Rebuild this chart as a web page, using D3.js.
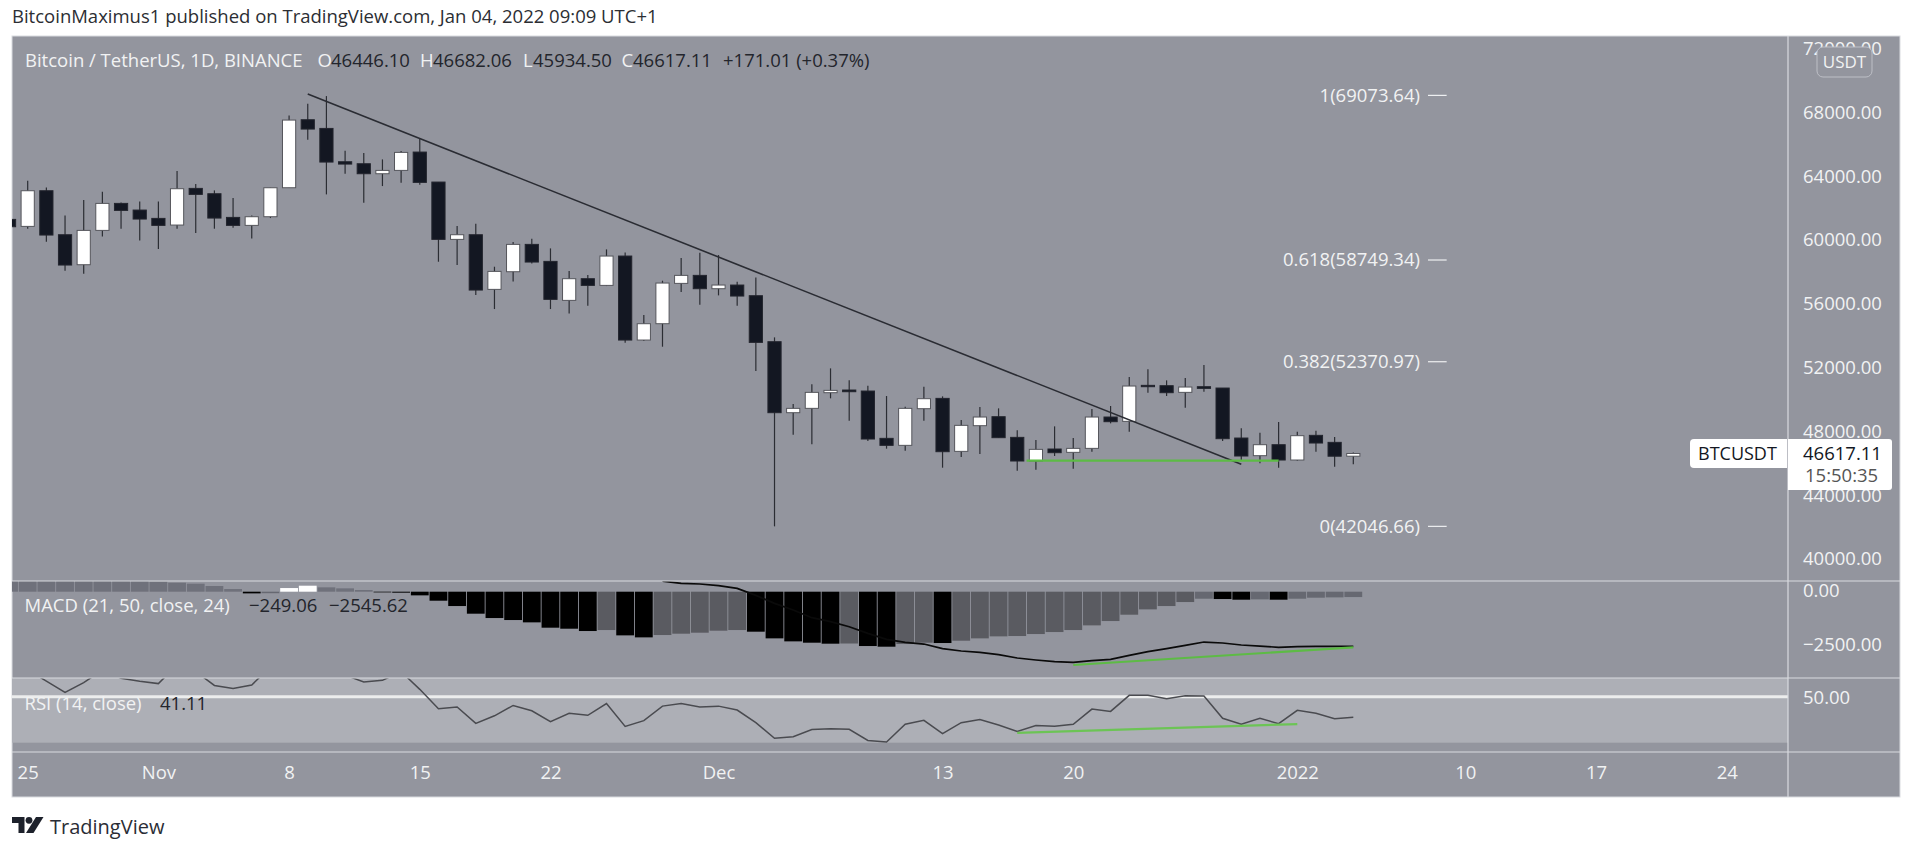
<!DOCTYPE html>
<html><head><meta charset="utf-8">
<script src="https://cdnjs.cloudflare.com/ajax/libs/d3/7.8.5/d3.min.js"></script>
<style>
html,body{margin:0;padding:0;background:#fff;overflow:hidden}
svg{display:block}
text{font-family:"Open Sans","Noto Sans",sans-serif;font-size:18.5px;font-weight:500}
</style></head><body><svg id="c" width="1909" height="848"></svg>
<script>
// ---------- data ----------
const firstDay = -1; // array position 0 is the day before the "25" tick (24 Oct)
const candleOpen = [61297,60858,63094,60335,58454,60607,62300,61882,61359,60942,63241,62906,61422,60921,61464,63282,67546,67002,64912,64787,64160,64369,65519,63638,60043,60335,56908,58015,59729,58663,56218,57577,57158,58998,53731,54755,57284,57786,56950,57180,56511,53627,49175,49447,50429,50596,50533,47566,47127,49426,50073,46750,48360,48924,47628,46145,46897,46688,46938,48903,48631,50889,50868,50450,50805,50721,47586,46479,47168,46207,47754,47315,46446.10];
const candleHigh = [61600,63721,63303,61548,62509,63031,62363,62425,62425,64327,63512,63115,62634,61548,63282,67818,68549,69030,65602,65456,65059,65581,66375,63638,60879,61025,58329,59876,60085,59478,58057,57807,59416,59228,55298,57451,58872,59207,59061,57388,57660,53898,49718,50951,51954,51202,50868,50220,49551,50805,50199,48715,49530,49447,48067,47461,48318,47586,49405,49593,51411,51892,51202,51348,52163,50721,48193,47921,48590,47984,48046,47649,46682.06];
const candleLow = [60700,60712,59897,58078,57890,60231,60712,59980,59437,60712,60440,60712,60774,60106,61380,63282,66292,62864,64160,62342,63387,63596,63470,58642,58434,56553,55675,57409,58538,55675,55403,55884,57116,53564,53668,53313,56741,55946,56532,55884,51787,42047,47795,47189,50074,48673,47398,46918,46792,48673,45726,46395,46583,47608,45538,45601,46458,45664,46729,48506,47984,50429,50220,49488,50491,47398,46207,45998,45726,46165,46730,45789,45934.50];
const candleClose = [60837,63094,60315,58434,60607,62300,61861,61318,60921,63220,62864,61380,60921,61464,63282,67525,66961,64892,64766,64160,64369,65498,63617,60043,60335,56866,58036,59729,58622,56281,57577,57158,58998,53731,54755,57305,57786,56950,57180,56490,53584,49175,49447,50450,50575,50491,47524,47127,49447,50052,46729,48381,48903,47608,46145,46876,46667,46938,48903,48611,50847,50805,50429,50784,50700,47545,46458,47168,46207,47733,47273,46446,46617.11];

const histogram = [620,610,600,590,570,550,520,490,470,418,372,264,124,-78,-70,170,279,202,155,78,-31,-46,-170,-419,-667,-1023,-1225,-1318,-1426,-1674,-1721,-1829,-1783,-2031,-2124,-2015,-1953,-1907,-1814,-1783,-1860,-2170,-2310,-2372,-2418,-2410,-2527,-2558,-2434,-2372,-2387,-2279,-2170,-2077,-2062,-1969,-1876,-1783,-1566,-1364,-1070,-822,-667,-481,-326,-341,-372,-357,-372,-326,-279,-264,-249.06];
const macdLineFirstDay = 34;
const macdLine = [496,388,357,279,155,-171,-543,-853,-1209,-1395,-1628,-1938,-2217,-2356,-2434,-2651,-2759,-2821,-2930,-3085,-3178,-3255,-3286,-3209,-3147,-2961,-2790,-2651,-2496,-2341,-2387,-2480,-2527,-2589,-2558,-2542,-2542,-2545.62];
const rsiFirstDay = 0;
const rsi = [61.6,56.8,51.9,56.1,61.6,58,56.7,55.7,63.8,60.9,54.9,53.6,55.1,63,70.3,68.8,65.9,59.4,56.4,57.1,60.9,53.2,44.8,45.5,38.4,41.7,46.2,43.9,39.1,42.8,41.9,47,37.1,39.6,45.9,47,45.5,45.9,44.2,38.7,31.9,32.6,35.7,36.1,35.8,31,30.3,38,39.7,33.9,38.7,40.1,37.7,34.9,37.5,37.2,38,44.6,43.6,50.6,50.6,49.1,50.4,50.3,40.6,38,40.6,38.3,44.1,42.8,40.4,41.11];

const trendDays = [15,65], trendPrices = [69155,45935];
const greenPriceDays = [53.5,67], greenPrices = [46165,46165];
const greenMacdDays = [56,71], greenMacd = [-3410,-2589];
const greenRsiDays = [53,68], greenRsi = [34.3,38.1];

const fibRatios = ["1","0.618","0.382","0"];
const fibPrices = [69073.64,58749.34,52370.97,42046.66];
const fibLineDays = [75,76];

const priceTicks = [72000,68000,64000,60000,56000,52000,48000,44000,40000];
const macdTicks = [0,-2500];
const rsiTicks = [50];
const timeTickDays = [0,7,14,21,28,37,49,56,68,77,84,91];
const timeTickLabels = ["25","Nov","8","15","22","Dec","13","20","2022","10","17","24"];

// ---------- layout ----------
const L=12,R=1900,AX=1788,T=36,B=797,S1=581,S2=678,S3=752;
const PANE="#93959e",LINE="#d9dbe0",LIGHT="#f1f2f3",DARK="#131722",VAL="#23252c";
const svg=d3.select("#c");
const x=d3.scaleLinear().domain([0,71]).range([27.7,1353.3]);
const yP=d3.scaleLinear().domain([40000,68000]).range([559,112.5]);
const yM=d3.scaleLinear().domain([0,-2500]).range([591.7,645.45]);
const yR=d3.scaleLinear().domain([50,30]).range([696.7,742.7]);

const defs=svg.append("defs");
const clip=(id,y0,y1)=>defs.append("clipPath").attr("id",id).append("rect").attr("x",L).attr("y",y0).attr("width",AX-L).attr("height",y1-y0);
clip("cp",T,S1);clip("cm",S1,S2);clip("cr",S2,S3);

svg.append("rect").attr("x",L).attr("y",T).attr("width",R-L).attr("height",B-T).attr("fill",PANE).attr("stroke",LINE).attr("stroke-width",1);

// RSI band
svg.append("rect").attr("x",L).attr("y",S2).attr("width",AX-L).attr("height",yR(30)-S2).attr("fill","#adafb6");

// ---------- candles ----------
const days=candleOpen.map((_,i)=>i);
const gc=svg.append("g").attr("clip-path","url(#cp)");
const bw=13.2;
gc.selectAll("line.w").data(days).join("line").attr("class","w")
  .attr("x1",i=>x(i+firstDay)).attr("x2",i=>x(i+firstDay))
  .attr("y1",i=>yP(candleHigh[i])).attr("y2",i=>yP(candleLow[i]))
  .attr("stroke","#2b2d33").attr("stroke-width",1.2);
gc.selectAll("rect.b").data(days).join("rect").attr("class","b")
  .attr("x",i=>x(i+firstDay)-bw/2).attr("width",bw)
  .attr("y",i=>yP(Math.max(candleOpen[i],candleClose[i])))
  .attr("height",i=>Math.max(0.6,Math.abs(yP(candleOpen[i])-yP(candleClose[i]))))
  .attr("fill",i=>candleClose[i]>=candleOpen[i]?"#ffffff":DARK)
  .attr("stroke",i=>candleClose[i]>=candleOpen[i]?"#55565c":"#23252e").attr("stroke-width",1);

const ln=(xs,ys,sx,sy,col,w,par)=>par.append("path")
  .attr("d",d3.line().x(d=>sx(d[0])).y(d=>sy(d[1]))(xs.map((v,i)=>[v,ys[i]])))
  .attr("fill","none").attr("stroke",col).attr("stroke-width",w);

ln(trendDays,trendPrices,x,yP,"#2a2c33",1.6,gc);
ln(greenPriceDays,greenPrices,x,yP,"#5dbb45",2.2,gc);

// fib levels
const gf=svg.append("g");
fibPrices.forEach((p,i)=>{
  gf.append("line").attr("x1",x(fibLineDays[0])).attr("x2",x(fibLineDays[1])).attr("y1",yP(p)).attr("y2",yP(p)).attr("stroke","#eeeff1").attr("stroke-width",1.2);
  gf.append("text").attr("x",x(fibLineDays[0])-8).attr("y",yP(p)).attr("dy","0.35em").attr("text-anchor","end").attr("fill",LIGHT)
    .text(fibRatios[i]+"("+p.toFixed(2)+")");
});

// ---------- MACD ----------
const gm=svg.append("g").attr("clip-path","url(#cm)");
const histColor=i=>{
  const v=histogram[i],p=i>0?histogram[i-1]:v+1;
  if(v>=0) return v>p?"#ffffff":"#6f717b";
  if(v<p) return "#000000";
  return v>-400?"#666871":"#5a5b61";
};
gm.selectAll("rect").data(days).join("rect")
  .attr("x",i=>x(i+firstDay)-8.9).attr("width",17.8)
  .attr("y",i=>Math.min(yM(0),yM(histogram[i])))
  .attr("height",i=>Math.abs(yM(histogram[i])-yM(0)))
  .attr("fill",histColor);
ln(macdLine.map((_,i)=>i+macdLineFirstDay),macdLine,x,yM,"#0a0a0a",1.7,gm);
ln(greenMacdDays,greenMacd,x,yM,"#5dbb45",2.2,gm);

// ---------- RSI ----------
const gr=svg.append("g").attr("clip-path","url(#cr)");
gr.append("line").attr("x1",L).attr("x2",AX).attr("y1",yR(50)).attr("y2",yR(50)).attr("stroke","#eceded").attr("stroke-width",3);
ln(rsi.map((_,i)=>i+rsiFirstDay),rsi,x,yR,"#4a4b50",1.5,gr);
ln(greenRsiDays,greenRsi,x,yR,"#6cc455",2.2,gr);

// ---------- separators ----------
[S1,S2,S3].forEach(y=>svg.append("line").attr("x1",L).attr("x2",R).attr("y1",y).attr("y2",y).attr("stroke",LINE).attr("stroke-width",1.2));
svg.append("line").attr("x1",AX).attr("x2",AX).attr("y1",T).attr("y2",B).attr("stroke",LINE).attr("stroke-width",1.2);

// ---------- axes ----------
const styleAxis=g=>{g.select(".domain").remove();g.selectAll("line").remove();
  g.selectAll("text").attr("fill",LIGHT).style("font-size","18.5px").style("font-weight","500").style("font-family",'"Open Sans","Noto Sans",sans-serif');};
const f2=d3.format(".2f");
svg.append("g").attr("transform",`translate(${AX},0)`).call(d3.axisRight(yP).tickValues(priceTicks).tickFormat(f2).tickSize(0).tickPadding(15)).call(styleAxis);
svg.append("g").attr("transform",`translate(${AX},-1)`).call(d3.axisRight(yM).tickValues(macdTicks).tickFormat(f2).tickSize(0).tickPadding(15)).call(styleAxis);
svg.append("g").attr("transform",`translate(${AX},1)`).call(d3.axisRight(yR).tickValues(rsiTicks).tickFormat(f2).tickSize(0).tickPadding(15)).call(styleAxis);
const tickMap=new Map(timeTickDays.map((d,i)=>[d,timeTickLabels[i]]));
const ax=svg.append("g").attr("transform",`translate(0,${S3})`).call(d3.axisBottom(x).tickValues(timeTickDays).tickFormat(d=>tickMap.get(d)).tickSize(0).tickPadding(14)).call(styleAxis);

// USDT badge
svg.append("rect").attr("x",1817).attr("y",47).attr("width",55).attr("height",30).attr("rx",6).attr("fill",PANE).attr("stroke","#bdbfc6").attr("stroke-width",1);
svg.append("text").attr("x",1844.5).attr("y",62).attr("dy","0.35em").attr("text-anchor","middle").attr("fill",LIGHT).style("font-size","17px").text("USDT");

// last price label
svg.append("path").attr("d","M1787,439H1694a4,4 0 0 0 -4,4V464a4,4 0 0 0 4,4H1787Z").attr("fill","#fff");
svg.append("text").attr("x",1698).attr("y",454).attr("dy","0.35em").attr("fill","#131722").style("font-size","18px").text("BTCUSDT");
svg.append("path").attr("d","M1788,439H1889a3,3 0 0 1 3,3V487a3,3 0 0 1 -3,3H1788Z").attr("fill","#fff");
svg.append("text").attr("x",1803).attr("y",454).attr("dy","0.35em").attr("fill","#131722").text(f2(candleClose[candleClose.length-1]));
svg.append("text").attr("x",1805).attr("y",476).attr("dy","0.35em").attr("fill","#555").text("15:50:35");

// ---------- legends ----------
const put=(t,px,py,col)=>svg.append("text").attr("x",px).attr("y",py).attr("dy","0.35em").attr("fill",col).text(t);
put("BitcoinMaximus1 published on TradingView.com, Jan 04, 2022 09:09 UTC+1",12,17,"#2c2e33");
put("Bitcoin / TetherUS, 1D, BINANCE",25,61,LIGHT);
put("O",317.5,61,LIGHT);put("46446.10",331,61,VAL);
put("H",420,61,LIGHT);put("46682.06",433,61,VAL);
put("L",523,61,LIGHT);put("45934.50",533,61,VAL);
put("C",621.5,61,LIGHT);put("46617.11",633,61,VAL);
put("+171.01 (+0.37%)",723,61,VAL);
put("MACD (21, 50, close, 24)",24.5,606,LIGHT);
put("\u2212249.06",249,606,VAL);put("\u22122545.62",329,606,VAL);
put("RSI (14, close)",24.5,704,LIGHT);put("41.11",160,704,VAL);

// ---------- TradingView logo ----------
svg.append("path").attr("d","M12,817H24.5V833H18.5V823H12Z").attr("fill","#1d212b");
svg.append("circle").attr("cx",29).attr("cy",820.3).attr("r",3.4).attr("fill","#1d212b");
svg.append("path").attr("d","M36,817H43.5L33.5,833H26Z").attr("fill","#1d212b");
svg.append("text").attr("x",50).attr("y",827).attr("dy","0.35em").attr("fill","#2a2d35").style("font-size","20px").text("TradingView");
</script></body></html>
